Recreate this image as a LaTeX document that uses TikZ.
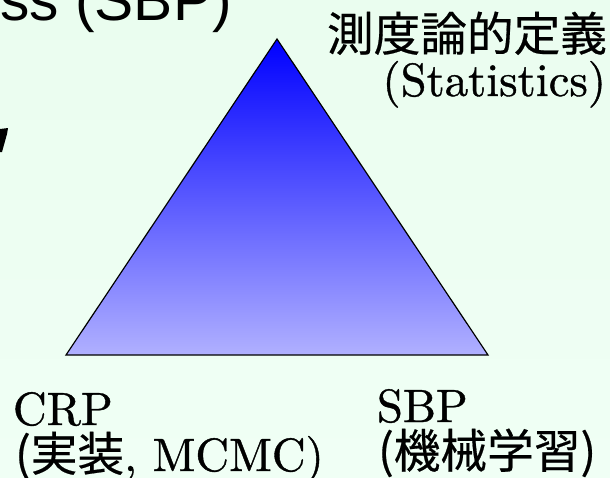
\documentclass[tikz,border=0pt]{standalone}
\usepackage{fontspec}
\newfontfamily\cjk{Noto Sans CJK JP}[FakeBold=0.4]
\newfontfamily\arial{Liberation Sans}
\newfontfamily\lmten{lmroman10-regular.otf}[FakeBold=0.8]
\begin{document}
\begin{tikzpicture}[x=0.75pt,y=-0.75pt,
  lbl/.style={inner sep=0pt,outer sep=0pt,font=\lmten\fontsize{35}{37}\selectfont},
  tri/.style={draw=black,line width=0.9pt,line join=miter,top color=blue,bottom color={rgb,255:red,176;green,176;blue,255}}]
\definecolor{bgtop}{RGB}{234,253,239}
\definecolor{bgbot}{RGB}{240,255,245}
\useasboundingbox (0,0) rectangle (610,478);
\clip (0,0) rectangle (610,478);
\shade[top color=bgtop,bottom color=bgbot] (0,0) rectangle (610,478);
% title fragment
\node[inner sep=0pt,anchor=base east,font=\arial\fontsize{44}{46}\selectfont] (title) at (232,21) {ss (SBP)};
\fill[black] (0,129) -- (8,128) -- (7,134) -- (2,152) -- (0,152) -- cycle;
% triangle
\coordinate (A) at (277,39);
\coordinate (B) at (66,355);
\coordinate (C) at (488,355);
\path[tri] (A) -- (B) -- (C) -- cycle;
% labels
\node[lbl,anchor=base east] (m1) at (607,51) {\cjk 測度論的定義};
\node[lbl,anchor=base east] (m2) at (606,96) {(Statistics)};
\node[lbl,anchor=base west] (c1) at (13,425) {CRP};
\node[lbl,anchor=base west] (c2) at (15,471) {{\cjk (実装}, MCMC)};
\node[lbl,anchor=base west] (s1) at (377,422) {SBP};
\node[lbl,anchor=base west] (s2) at (378,468) {\cjk (機械学習)};
\end{tikzpicture}
\end{document}
